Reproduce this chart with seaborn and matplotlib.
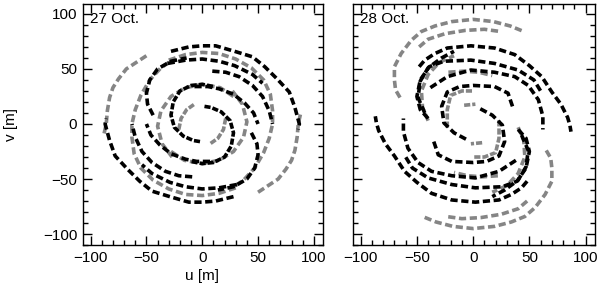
import matplotlib
matplotlib.use("Agg")
import matplotlib.pyplot as plt
import seaborn as sns
import pandas as pd
from matplotlib.ticker import MultipleLocator

# ---- uv tracks (u, v in metres); the conjugate (-u,-v) is also plotted ----
oct27_black = [
    [(-28, 66), (-12, 70), (0, 71), (12, 71), (29, 66), (45, 61), (56, 52), (67, 41), (78, 29), (83, 15), (87, 0), (86, -5)],
    [(-31, 55), (-15, 58), (0, 59), (15, 57), (29, 53), (45, 45), (54, 37)],
    [(9, 48), (21, 47), (33, 43), (45, 35), (54, 25), (60, 12), (63, 0)],
    [(44, -8), (49, -18), (50, -28), (47, -40), (40, -50), (28, -57), (14, -60)],
    [(-7, 34), (5, 34), (15, 32), (28, 27), (38, 19), (46, 10), (50, 0)],
    [(2, 16), (8, 15), (17, 11), (25, 3), (28, -8), (26, -20), (20, -30), (10, -35), (0, -36), (-10, -34)],
]
oct27_gray = [
    [(-50, 62), (-59, 56), (-68, 50), (-75, 41), (-80, 33), (-83, 24), (-85, 12), (-86, 0), (-88, -9)],
    [(-30, 58), (-15, 63), (0, 65), (15, 64), (30, 59), (44, 51), (55, 40), (61, 27), (63, 12), (63, 0),
     (60, -13), (55, -26), (47, -40), (37, -51), (27, -58)],
    [(28, 25), (16, 33), (0, 36), (-15, 33), (-28, 25), (-37, 12), (-40, -2), (-36, -18), (-27, -30)],
    [(-21, -5), (-19, 5), (-14, 13), (-7, 18)],
]
oct28_black = [
    [(-48, 52), (-43, 58), (-34, 64), (-23, 69), (-2, 71), (19, 69), (37, 63), (50, 53),
     (61, 43), (70, 29), (78, 18), (84, 6), (86, -1), (87, -7)],
    [(-40, 5), (-47, 13), (-50, 25), (-47, 40), (-39, 52), (-26, 57), (-2, 58), (19, 55), (40, 49),
     (54, 40), (60, 30)],
    [(-38, 33), (-23, 43), (-2, 49), (19, 47), (37, 43), (49, 35), (58, 22), (62, 7), (62, -5)],
    [(35, 16), (31, 28), (19, 34), (0, 35), (-12, 34), (-23, 29), (-28, 16), (-26, 1), (-17, -8), (-6, -14)],
    [(43, -10), (49, -24), (47, -39), (40, -51), (28, -60), (17, -66)],
]
oct28_gray = [
    [(-65, 24), (-69, 31), (-70, 40), (-70, 52), (-64, 64), (-55, 76), (-46, 84), (-34, 89), (-19, 93),
     (0, 95), (18, 93), (33, 89), (45, 84)],
    [(-48, 70), (-40, 77), (-25, 82), (-7, 85), (10, 86), (24, 84)],
    [(-22, 47), (-8, 48), (5, 47), (17, 44)],
    [(-1, 30), (-10, 30), (-20, 26), (-23, 13), (-23, -5)],
    [(-8, 17), (2, 18)],
    [(40, -3), (45, -15), (46, -30), (40, -45), (30, -56), (17, -62)],
]
panel_titles = ["27 Oct.", "28 Oct."]
major_ticks = [-100, -50, 0, 50, 100]

GRAY = "#858585"
BLACK = "#000000"


def tracks_frame(black, gray):
    rows = []
    tid = 0
    for colour, tracks in (("gray", gray), ("black", black)):
        for tr in tracks:
            for sign in (1, -1):
                for k, (u, v) in enumerate(tr):
                    rows.append(dict(u=sign * u, v=sign * v, track=tid, colour=colour, order=k))
                tid += 1
    return pd.DataFrame(rows)


sns.set_style("white")
plt.rcParams["font.family"] = ["Liberation Sans", "DejaVu Sans"]
for key in ("text.color", "axes.labelcolor", "xtick.color", "ytick.color"):
    plt.rcParams[key] = "black"

fig = plt.figure(figsize=(6.0, 2.84), dpi=100)
ax1 = fig.add_axes([0.138, 0.137, 0.400, 0.849])
ax2 = fig.add_axes([0.588, 0.137, 0.403, 0.849])

datasets = [(oct27_black, oct27_gray), (oct28_black, oct28_gray)]
for ax, (blk, gry), title in zip((ax1, ax2), datasets, panel_titles):
    df = tracks_frame(blk, gry)
    for tid, sub in df.groupby("track", sort=True):
        col = GRAY if sub["colour"].iloc[0] == "gray" else BLACK
        rmax = ((sub["u"] ** 2 + sub["v"] ** 2) ** 0.5).max()
        pattern = (0, (1.7, 0.55)) if rmax < 40 else (0, (2.0, 1.0))
        sns.lineplot(data=sub, x="u", y="v", sort=False, estimator=None, ax=ax,
                     color=col, lw=2.6, linestyle=pattern,
                     dash_capstyle="butt", solid_capstyle="butt")
    ax.set_xlim(-107, 108)
    ax.set_ylim(-110, 109)
    ax.set_xticks(major_ticks)
    ax.set_yticks(major_ticks)
    ax.xaxis.set_minor_locator(MultipleLocator(10))
    ax.yaxis.set_minor_locator(MultipleLocator(10))
    ax.tick_params(which="both", direction="in", top=True, right=True, bottom=True, left=True,
                   color="black", width=1.0)
    ax.tick_params(which="major", length=6.5, labelsize=11, pad=4, labelcolor="black")
    ax.tick_params(which="minor", length=3.5)
    for sp in ax.spines.values():
        sp.set_color("black")
        sp.set_linewidth(1.0)
    ax.text(0.03, 0.965, title, transform=ax.transAxes, ha="left", va="top", fontsize=11)
    ax.set_xlabel("")
    ax.set_ylabel("")

ax1.set_xlabel("u [m]", fontsize=11)
ax1.set_ylabel("v [m]", fontsize=11)
ax1.xaxis.set_label_coords(0.496, -0.100)
ax1.yaxis.set_label_coords(-0.27, 0.50)
ax2.tick_params(labelleft=False)

fig.savefig("out.png", dpi=100)
